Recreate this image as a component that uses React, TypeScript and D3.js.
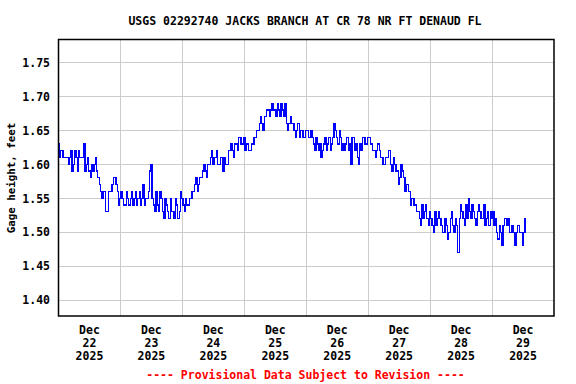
import React from "react";
import * as d3 from "d3";

const title = "USGS 02292740 JACKS BRANCH AT CR 78 NR FT DENAUD FL";
const yAxisLabel = "Gage height, feet";
const footer = "---- Provisional Data Subject to Revision ----";

const startTime = new Date(2025, 11, 22, 0, 0);
const endTime = new Date(2025, 11, 30, 0, 0);

// gage height (ft) read on the hour, starting Dec 22 2025 00:00
const onTheHour = [
  1.63, 1.62, 1.61, 1.61, 1.6, 1.62, 1.6, 1.61, 1.62, 1.61, 1.63, 1.6, 1.59, 1.6, 1.6, 1.59, 1.57, 1.55, 1.56, 1.53, 1.56, 1.57, 1.58, 1.56, 1.55,
  1.55, 1.54, 1.55, 1.55, 1.54, 1.56, 1.55, 1.54, 1.57, 1.55, 1.56, 1.6, 1.54, 1.56, 1.53, 1.55, 1.52, 1.54, 1.52, 1.53, 1.52, 1.54, 1.53, 1.55,
  1.53, 1.54, 1.55, 1.56, 1.57, 1.56, 1.58, 1.59, 1.59, 1.6, 1.61, 1.6, 1.61, 1.6, 1.61, 1.59, 1.6, 1.62, 1.63, 1.61, 1.63, 1.64, 1.63, 1.64,
  1.63, 1.62, 1.63, 1.64, 1.65, 1.66, 1.66, 1.67, 1.68, 1.67, 1.69, 1.68, 1.69, 1.67, 1.68, 1.69, 1.65, 1.67, 1.66, 1.64, 1.66, 1.65, 1.64, 1.65,
  1.64, 1.65, 1.63, 1.64, 1.62, 1.61, 1.63, 1.62, 1.64, 1.63, 1.66, 1.64, 1.65, 1.62, 1.62, 1.64, 1.63, 1.64, 1.62, 1.61, 1.63, 1.64, 1.63, 1.64,
  1.63, 1.62, 1.61, 1.63, 1.61, 1.6, 1.61, 1.62, 1.6, 1.61, 1.59, 1.57, 1.6, 1.58, 1.57, 1.56, 1.55, 1.54, 1.53, 1.52, 1.54, 1.53, 1.52, 1.53,
  1.51, 1.53, 1.52, 1.52, 1.5, 1.52, 1.49, 1.52, 1.51, 1.52, 1.47, 1.54, 1.52, 1.54, 1.55, 1.52, 1.53, 1.51, 1.54, 1.52, 1.54, 1.52, 1.51, 1.52,
  1.51, 1.5, 1.51, 1.48, 1.52, 1.51, 1.5, 1.51, 1.48, 1.51, 1.5, 1.48, 1.52,
];

// gage height (ft) read at half past each hour, starting Dec 22 2025 00:30
const halfPast = [
  1.61, 1.62, 1.61, 1.61, 1.61, 1.59, 1.62, 1.59, 1.61, 1.61, 1.59, 1.61, 1.58, 1.59, 1.61, 1.58, 1.56, 1.56, 1.53, 1.56, 1.56, 1.58, 1.57, 1.54,
  1.56, 1.54, 1.56, 1.54, 1.56, 1.55, 1.54, 1.56, 1.55, 1.54, 1.55, 1.59, 1.55, 1.53, 1.54, 1.56, 1.53, 1.55, 1.53, 1.55, 1.53, 1.55, 1.52, 1.56,
  1.54, 1.55, 1.54, 1.55, 1.56, 1.58, 1.57, 1.58, 1.6, 1.58, 1.6, 1.62, 1.61, 1.62, 1.6, 1.61, 1.61, 1.6, 1.62, 1.62, 1.63, 1.62, 1.64, 1.63,
  1.62, 1.63, 1.62, 1.63, 1.64, 1.65, 1.67, 1.65, 1.67, 1.68, 1.68, 1.68, 1.67, 1.68, 1.69, 1.67, 1.66, 1.66, 1.66, 1.65, 1.65, 1.64, 1.65, 1.64,
  1.65, 1.64, 1.64, 1.62, 1.63, 1.63, 1.62, 1.64, 1.63, 1.62, 1.64, 1.65, 1.63, 1.64, 1.63, 1.63, 1.62, 1.6, 1.64, 1.63, 1.6, 1.62, 1.64, 1.63,
  1.64, 1.63, 1.62, 1.62, 1.62, 1.61, 1.6, 1.61, 1.62, 1.59, 1.6, 1.59, 1.58, 1.59, 1.56, 1.57, 1.54, 1.55, 1.54, 1.53, 1.51, 1.52, 1.54, 1.51,
  1.52, 1.5, 1.51, 1.53, 1.51, 1.5, 1.51, 1.5, 1.53, 1.5, 1.51, 1.52, 1.53, 1.51, 1.52, 1.53, 1.54, 1.52, 1.53, 1.53, 1.52, 1.51, 1.53, 1.53,
  1.53, 1.52, 1.49, 1.5, 1.51, 1.52, 1.52, 1.5, 1.5, 1.5, 1.51, 1.5, 1.5,
];

const yTicks = [1.4, 1.45, 1.5, 1.55, 1.6, 1.65, 1.7, 1.75];
const yDomain = [1.3765, 1.7838];
const dayLabels = [
  ["Dec", "22", "2025"],
  ["Dec", "23", "2025"],
  ["Dec", "24", "2025"],
  ["Dec", "25", "2025"],
  ["Dec", "26", "2025"],
  ["Dec", "27", "2025"],
  ["Dec", "28", "2025"],
  ["Dec", "29", "2025"],
];

const W = 576;
const H = 384;
const L = 58.5;
const R = 554;
const T = 39.5;
const B = 316;
const FONT = "'DejaVu Sans Mono', monospace";

type Pt = { t: Date; v: number };

export default function App() {
  const x = d3.scaleTime().domain([startTime, endTime]).range([L, R]);
  const y = d3.scaleLinear().domain(yDomain).range([B, T]);
  const data: Pt[] = [];
  onTheHour.forEach((v, i) => {
    data.push({ t: d3.timeHour.offset(startTime, i), v });
    if (i < halfPast.length) {
      data.push({ t: d3.timeMinute.offset(startTime, i * 60 + 30), v: halfPast[i] });
    }
  });
  const line = d3
    .line<Pt>()
    .x((d) => x(d.t))
    .y((d) => y(d.v))
    .curve(d3.curveStep);
  const midnights = d3.timeDay.range(d3.timeDay.offset(startTime, 1), endTime);
  const days = d3.timeDay.range(startTime, endTime);

  return (
    <svg
      width={W}
      height={H}
      style={{ position: "absolute", left: 0, top: 0, background: "#fff" }}
      fontFamily={FONT}
      fontWeight="bold"
    >
      <rect x={0} y={0} width={W} height={H} fill="#fff" />
      <text x={305} y={24.5} textAnchor="middle" fontSize={11.5} fill="#000">
        {title}
      </text>
      {yTicks.map((t) => (
        <line
          key={"gy" + t}
          x1={L}
          x2={R}
          y1={Math.round(y(t)) + 0.5}
          y2={Math.round(y(t)) + 0.5}
          stroke="#cccccc"
          strokeWidth={1}
        />
      ))}
      {midnights.map((d, i) => (
        <line
          key={"gx" + i}
          x1={Math.round(x(d)) + 0.5}
          x2={Math.round(x(d)) + 0.5}
          y1={T}
          y2={B}
          stroke="#cccccc"
          strokeWidth={1}
        />
      ))}
      <path
        d={line(data) || ""}
        fill="none"
        stroke="#0000ff"
        strokeWidth={1.2}
        shapeRendering="crispEdges"
      />
      <rect x={L} y={T} width={R - L} height={B - T} fill="none" stroke="#000" strokeWidth={1.5} />
      {yTicks.map((t) => (
        <text key={"ty" + t} x={50} y={y(t) + 4.3} textAnchor="end" fontSize={11.5} fill="#000">
          {t.toFixed(2)}
        </text>
      ))}
      {days.map((d, i) => {
        const cx = x(d3.timeHour.offset(d, 12));
        return (
          <text key={"tx" + i} x={cx} textAnchor="middle" fontSize={11.5} fill="#000">
            {dayLabels[i].map((s, j) => (
              <tspan key={j} x={cx} y={334 + j * 13}>
                {s}
              </tspan>
            ))}
          </text>
        );
      })}
      <text
        transform={`translate(15,178) rotate(-90)`}
        textAnchor="middle"
        fontSize={10.8}
        fill="#000"
      >
        {yAxisLabel}
      </text>
      <text x={305.5} y={379} textAnchor="middle" fontSize={11.5} fill="#ff0000">
        {footer}
      </text>
    </svg>
  );
}
